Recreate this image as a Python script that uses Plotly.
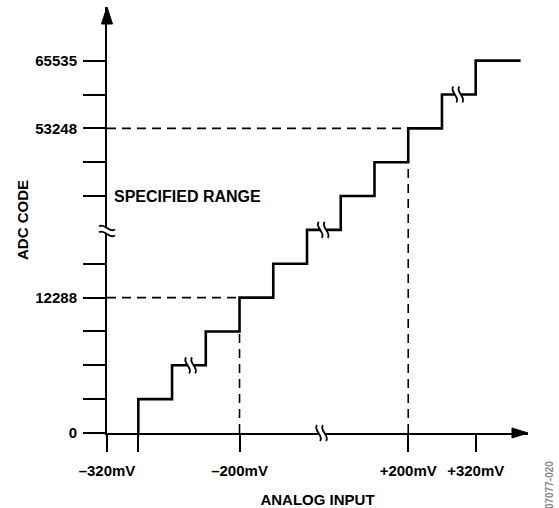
import plotly.graph_objects as go

# ---------------- data (schematic step units) ----------------
# x: ADC transition positions in step units; y: output code level index
step_x = [1, 2, 3, 4, 5, 6, 7, 8, 9, 10, 11, 12.33]
step_level = [0, 1, 2, 3, 4, 5, 6, 7, 8, 9, 10, 11]

y_tick_levels = [0, 1, 2, 3, 4, 5, 7, 8, 9, 10, 11]
y_tick_text = ["0", "", "", "", "12288", "", "", "", "53248", "", "65535"]

x_axis_pos = 0.072          # position of the code axis (= -320mV)
x_tick_vals = [x_axis_pos, 1, 4, 9, 11]
x_tick_text = ["–320mV", "", "–200mV", "+200mV", "+320mV"]

ref_x = [4, 9]              # -200mV and +200mV transitions
ref_level = [4, 9]          # codes 12288 and 53248

dot_x = -0.84
dot_levels = [10.45, 9.62, 7.20, 6.38, 5.59, 3.14, 2.35, 1.56]

break_x = [2.55, 6.48, 10.47, 6.43]      # breaks on steps and on x axis
break_level = [2, 6, 10, 0]
axis_break_level = 5.97                  # break on the code axis

X_MAX = 12.55
Y_MAX = 12.585
PX_X = 33.74   # pixels per x unit
PX_Y = 33.85   # pixels per y unit

FONT = "Liberation Sans"
fig = go.Figure()

# dashed reference lines
for rx, rl in zip(ref_x, ref_level):
    fig.add_trace(go.Scatter(x=[x_axis_pos, rx], y=[rl, rl], mode="lines",
                             line=dict(color="black", width=1.6, dash="9px,6px"),
                             hoverinfo="skip", showlegend=False))
    fig.add_trace(go.Scatter(x=[rx, rx], y=[0, rl - 1], mode="lines",
                             line=dict(color="black", width=1.6, dash="9px,6px"),
                             hoverinfo="skip", showlegend=False))

# staircase transfer function
fig.add_trace(go.Scatter(x=step_x, y=step_level, mode="lines", line_shape="vh",
                         line=dict(color="black", width=2.6),
                         hoverinfo="skip", showlegend=False))

# ellipsis dots
fig.add_trace(go.Scatter(x=[dot_x] * len(dot_levels), y=dot_levels, mode="markers",
                         marker=dict(color="black", size=8), cliponaxis=False,
                         hoverinfo="skip", showlegend=False))


def paper(x, y, dx=0.0, dy=0.0):
    """data point plus pixel offset -> paper coords (paper shapes are not clipped)"""
    px_ = (x - x_axis_pos) * PX_X + dx
    py_ = y * PX_Y + dy
    return px_ / ((X_MAX - x_axis_pos) * PX_X), py_ / (Y_MAX * PX_Y)


def path_of(points, close=False, curve=False):
    if curve:
        p = points
        s = (f"M {p[0][0]} {p[0][1]} C {p[1][0]} {p[1][1]}, "
             f"{p[2][0]} {p[2][1]}, {p[3][0]} {p[3][1]}")
    else:
        s = "M " + " L ".join(f"{a} {b}" for a, b in points)
    return s + (" Z" if close else "")


# arrow heads
fig.add_shape(type="path", xref="paper", yref="paper",
              path=path_of([paper(x_axis_pos, Y_MAX), paper(x_axis_pos, Y_MAX, -5.5, -17),
                            paper(x_axis_pos, Y_MAX, 5.5, -17)], close=True),
              fillcolor="black", line=dict(color="black", width=1))
fig.add_shape(type="path", xref="paper", yref="paper",
              path=path_of([paper(X_MAX, 0), paper(X_MAX, 0, -16, 5),
                            paper(X_MAX, 0, -16, -5)], close=True),
              fillcolor="black", line=dict(color="black", width=1))


def add_break(cx, cy, vertical):
    if vertical:
        wave_pts = [(-1.5, 8), (-6, 3), (6, -3), (1.5, -8)]
        offs = [(-3, 0), (3, 0)]
    else:
        wave_pts = [(-8, 1.5), (-3, 6), (3, -6), (8, -1.5)]
        offs = [(0, -3), (0, 3)]
    x0, y0 = paper(cx, cy, -3, -3)
    x1, y1 = paper(cx, cy, 3, 3)
    fig.add_shape(type="rect", xref="paper", yref="paper", x0=x0, x1=x1, y0=y0, y1=y1,
                  fillcolor="white", line=dict(width=0))
    for ox, oy in offs:
        pts = [paper(cx, cy, ox + a, oy + b) for a, b in wave_pts]
        fig.add_shape(type="path", xref="paper", yref="paper", path=path_of(pts, curve=True),
                      line=dict(color="black", width=1.8))


for bx, bl in zip(break_x, break_level):
    add_break(bx, bl, True)
add_break(x_axis_pos, axis_break_level, False)

fig.add_annotation(x=x_axis_pos, y=7.0, xshift=5, xanchor="left", text="SPECIFIED RANGE",
                   showarrow=False,
                   font=dict(family=FONT, size=16, color="black", weight="bold"))

fig.add_annotation(xref="paper", yref="paper", x=(549 - 107) / 421, y=(433 - 485) / 426,
                   xanchor="center", yanchor="middle",
                   text="07077-020", textangle=-90, showarrow=False,
                   font=dict(family=FONT, size=10, color="#888888"))

fig.update_layout(
    width=559, height=508,
    margin=dict(l=107, r=31, t=7, b=75, autoexpand=False),
    paper_bgcolor="white", plot_bgcolor="white",
    font=dict(family=FONT, size=15, color="black", weight="bold"),
    xaxis=dict(range=[x_axis_pos, X_MAX], showgrid=False, zeroline=False,
               showline=True, linecolor="black", linewidth=2,
               tickmode="array", tickvals=x_tick_vals, ticktext=x_tick_text,
               ticks="outside", ticklen=17, tickwidth=2, tickcolor="black",
               ticklabelstandoff=6,
               tickfont=dict(family=FONT, size=15, color="black", weight="bold"),
               title=dict(text="ANALOG INPUT", standoff=16,
                          font=dict(family=FONT, size=15, color="black", weight="bold"))),
    yaxis=dict(range=[0, Y_MAX], showgrid=False, zeroline=False,
               showline=True, linecolor="black", linewidth=2,
               tickmode="array", tickvals=y_tick_levels, ticktext=y_tick_text,
               ticks="outside", ticklen=22, tickwidth=2, tickcolor="black",
               ticklabelstandoff=3,
               tickfont=dict(family=FONT, size=15, color="black", weight="bold"),
               title=dict(text="ADC CODE", standoff=3,
                          font=dict(family=FONT, size=15, color="black", weight="bold"))),
)

fig.write_html("out.html", config={"displayModeBar": False},
               post_script="document.body.style.margin='0';"
                           "document.body.style.overflow='hidden';")
